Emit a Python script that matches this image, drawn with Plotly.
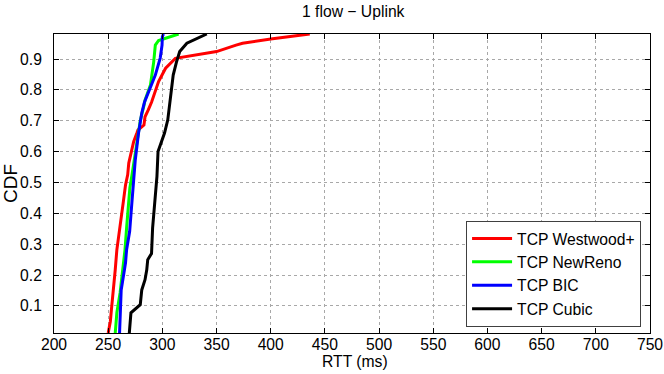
import plotly.graph_objects as go

# RTT (ms) / CDF points
westwood_rtt = [250, 252, 253, 255, 256.5, 258, 259.6, 261, 262.6, 264, 266, 268, 269, 272, 273.5,
                276.5, 277.5, 283, 284, 287, 290, 296.5, 303, 312, 330, 350, 368, 374, 400, 436]
westwood_cdf = [0.0125, 0.05, 0.088, 0.152, 0.217, 0.282, 0.32, 0.353, 0.395, 0.438, 0.492, 0.525, 0.563,
                0.616, 0.632, 0.66, 0.67, 0.686, 0.713, 0.735, 0.76, 0.827, 0.87, 0.902, 0.913, 0.924,
                0.945, 0.951, 0.965, 0.981]

newreno_rtt = [256.5, 258, 261, 262.6, 264, 265.5, 267, 269, 270, 272, 274, 279.6, 283, 284, 289, 292,
               293.5, 296.5, 315]
newreno_cdf = [0.0125, 0.078, 0.143, 0.195, 0.24, 0.282, 0.353, 0.428, 0.482, 0.525, 0.573, 0.70, 0.75,
               0.767, 0.816, 0.89, 0.945, 0.96, 0.981]

bic_rtt = [260.5, 261, 262, 265, 266, 267, 269.8, 271.5, 273, 274, 275, 278, 281, 283.5, 289, 293.5,
           298, 299.7, 300, 301]
bic_cdf = [0.0125, 0.078, 0.152, 0.217, 0.24, 0.282, 0.341, 0.418, 0.482, 0.525, 0.573, 0.66, 0.725,
           0.76, 0.806, 0.848, 0.903, 0.945, 0.972, 0.981]

cubic_rtt = [269.5, 271, 279.6, 281, 284, 285.6, 286.5, 290, 291, 293.5, 295, 296, 299, 302, 305, 307,
             310, 313, 316, 322.6, 332, 341]
cubic_cdf = [0.0125, 0.078, 0.104, 0.152, 0.185, 0.217, 0.25, 0.27, 0.353, 0.46, 0.52, 0.6, 0.628,
             0.66, 0.703, 0.76, 0.848, 0.89, 0.924, 0.951, 0.967, 0.981]

series = [
    ("TCP Westwood+", westwood_rtt, westwood_cdf, "#ff0000"),
    ("TCP NewReno", newreno_rtt, newreno_cdf, "#00ff00"),
    ("TCP BIC", bic_rtt, bic_cdf, "#0000ff"),
    ("TCP Cubic", cubic_rtt, cubic_cdf, "#000000"),
]

FONT = "Liberation Sans, Arial, sans-serif"
FS = 15.7

fig = go.Figure()
for name, x, y, color in series:
    fig.add_trace(go.Scatter(x=x, y=y, name=name, mode="lines",
                             line=dict(color=color, width=3)))

axis_common = dict(showline=True, linecolor="black", linewidth=1, mirror="allticks",
                   ticks="inside", ticklen=5, tickcolor="black",
                   showgrid=True, gridcolor="#a8a8a8", griddash="dot", gridwidth=1,
                   zeroline=False, tickfont=dict(size=FS, color="black"))

fig.update_layout(
    width=664, height=374,
    margin=dict(l=54, r=14, t=34, b=41, autoexpand=False),
    paper_bgcolor="white", plot_bgcolor="white",
    font=dict(family=FONT, size=FS, color="black"),
    title=dict(text="1 flow − Uplink", x=0.532, xanchor="center", y=0.968, yanchor="middle",
               font=dict(size=FS)),
    xaxis=dict(range=[200, 750], dtick=50, tick0=200, ticklabelstandoff=-3, **axis_common),
    yaxis=dict(range=[0.0125, 0.981], dtick=0.1, tick0=0.1, tickformat=".1f", ticklabelstandoff=8,
               title=dict(text="CDF", standoff=6), **axis_common),
    legend=dict(x=0.985, y=0.021, xanchor="right", yanchor="bottom",
                bgcolor="white", bordercolor="#404040", borderwidth=1,
                font=dict(size=FS), tracegroupgap=0, itemwidth=40),
    annotations=[dict(text="RTT (ms)", xref="paper", yref="paper", x=0.505, y=-0.096,
                      xanchor="center", yanchor="middle", showarrow=False,
                      font=dict(size=FS))],
    showlegend=True,
)

fig.write_html("out.html", config={"displayModeBar": False},
               post_script="document.body.style.margin='0';")
